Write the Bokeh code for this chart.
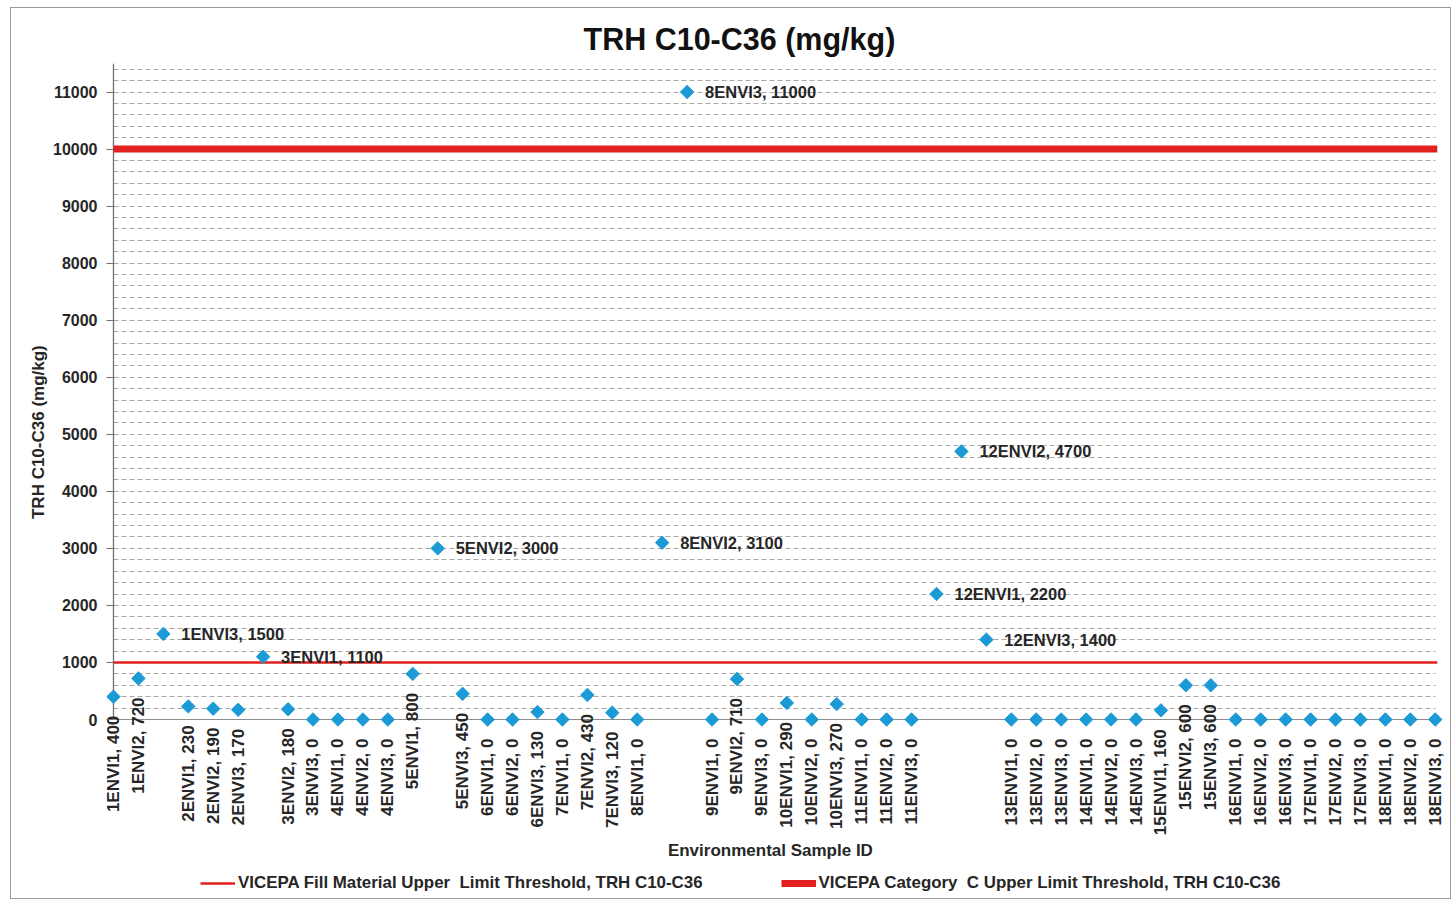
import math
from bokeh.plotting import figure
from bokeh.models import Range1d, FixedTicker, Legend, LegendItem, ColumnDataSource, Label, Title
from bokeh.core.properties import value
from bokeh.embed import file_html
from bokeh.resources import INLINE

# ---------------- data ----------------
samples = [
    "1ENVI1", "1ENVI2", "1ENVI3", "2ENVI1", "2ENVI2", "2ENVI3",
    "3ENVI1", "3ENVI2", "3ENVI3", "4ENVI1", "4ENVI2", "4ENVI3",
    "5ENVI1", "5ENVI2", "5ENVI3", "6ENVI1", "6ENVI2", "6ENVI3",
    "7ENVI1", "7ENVI2", "7ENVI3", "8ENVI1", "8ENVI2", "8ENVI3",
    "9ENVI1", "9ENVI2", "9ENVI3", "10ENVI1", "10ENVI2", "10ENVI3",
    "11ENVI1", "11ENVI2", "11ENVI3", "12ENVI1", "12ENVI2", "12ENVI3",
    "13ENVI1", "13ENVI2", "13ENVI3", "14ENVI1", "14ENVI2", "14ENVI3",
    "15ENVI1", "15ENVI2", "15ENVI3", "16ENVI1", "16ENVI2", "16ENVI3",
    "17ENVI1", "17ENVI2", "17ENVI3", "18ENVI1", "18ENVI2", "18ENVI3",
]
trh = [
    400, 720, 1500, 230, 190, 170,
    1100, 180, 0, 0, 0, 0,
    800, 3000, 450, 0, 0, 130,
    0, 430, 120, 0, 3100, 11000,
    0, 710, 0, 290, 0, 270,
    0, 0, 0, 2200, 4700, 1400,
    0, 0, 0, 0, 0, 0,
    160, 600, 600, 0, 0, 0,
    0, 0, 0, 0, 0, 0,
]
fill_limit = 1000
cat_c_limit = 10000
y_ticks = [0, 1000, 2000, 3000, 4000, 5000, 6000, 7000, 8000, 9000, 10000, 11000]
y_max = 11500

title_text = "TRH C10-C36 (mg/kg)"
y_title = "TRH C10-C36  (mg/kg)"
x_title = "Environmental Sample ID"
fill_label = "VICEPA Fill Material Upper  Limit Threshold, TRH C10-C36"
cat_label = "VICEPA Category  C Upper Limit Threshold, TRH C10-C36"

# ---------------- styling ----------------
FONT = "Liberation Sans"
TXT = "#262626"
BLUE = "#1b9ad6"
RED = "#e3201e"
AXIS = "#707070"

n = len(samples)
xs = list(range(n))
lab = [f"{s}, {v}" for s, v in zip(samples, trh)]
hi = [v >= fill_limit for v in trh]

src_hi = ColumnDataSource(dict(
    x=[x for x, h in zip(xs, hi) if h],
    y=[v for v, h in zip(trh, hi) if h],
    t=[l for l, h in zip(lab, hi) if h]))
src_lo = ColumnDataSource(dict(
    x=[x for x, h in zip(xs, hi) if not h],
    y=[v for v, h in zip(trh, hi) if not h],
    t=[l for l, h in zip(lab, hi) if not h]))

# the plotting frame runs down to the bottom so that the rotated labels,
# the x title and the legend all lie inside it
y_bottom = -3173
p = figure(width=1441, height=892,
           x_range=Range1d(-0.28, n - 1 + 0.45),
           y_range=Range1d(y_bottom, y_max),
           output_backend="svg", toolbar_location=None,
           min_border_left=95, min_border_right=6,
           min_border_top=55, min_border_bottom=0)
p.styles = {"border": "1px solid #9a9a9a", "margin-left": "10px", "margin-top": "7px"}
p.outline_line_color = None
p.background_fill_color = "white"
p.border_fill_color = "white"

# title
p.title.text = title_text
p.title.text_font = FONT
p.title.text_font_size = "30.5px"
p.title.text_font_style = "bold"
p.title.text_color = "#111111"
p.title.align = "left"
p.title.offset = 477
p.title.standoff = 16

# grid
p.xgrid.visible = False
p.ygrid.ticker = FixedTicker(ticks=list(range(200, y_max, 200)))
p.ygrid.grid_line_color = "#a8a8a8"
p.ygrid.grid_line_dash = "5 3"
p.ygrid.grid_line_width = 1
p.ygrid.cross_bounds = (0, n - 1)

# y axis (line drawn at x = 0 below; ticks point in from the frame edge)
ya = p.yaxis[0]
ya.ticker = FixedTicker(ticks=y_ticks)
ya.bounds = (0, y_max)
ya.axis_line_color = None
ya.major_tick_out = 0
ya.major_tick_in = 7
ya.minor_tick_out = 0
ya.minor_tick_in = 0
ya.major_tick_line_color = AXIS
ya.major_label_text_font = FONT
ya.major_label_text_font_size = "16px"
ya.major_label_text_font_style = "bold"
ya.major_label_text_color = TXT
ya.major_label_standoff = 9

# y axis title as a side title so that it can sit beside the value scale
p.add_layout(Title(text=y_title, align="right", offset=277, standoff=5,
                   text_font=FONT, text_font_size="17px", text_font_style="bold",
                   text_color=TXT), "left")

p.xaxis.visible = False

# axis lines
p.line(x=[0, 0], y=[0, y_max], line_color=AXIS, line_width=1.3)
p.line(x=[0, n - 1], y=[0, 0], line_color="#8c8c8c", line_width=1.2)

# threshold lines
r_fill = p.line(x=[0, n - 1 + 0.08], y=[fill_limit, fill_limit], line_color=RED, line_width=2.6)
r_cat = p.line(x=[0, n - 1 + 0.08], y=[cat_c_limit, cat_c_limit], line_color=RED, line_width=7)

# points
p.scatter(x=xs, y=trh, marker="square", angle=math.pi / 4, size=9.5,
          fill_color=BLUE, line_color=BLUE)

# data labels
p.text(x="x", y="y", text="t", source=src_hi, x_offset=18,
       text_align="left", text_baseline="middle",
       text_font=value(FONT), text_font_size=value("16.5px"),
       text_font_style="bold", text_color=TXT)
p.text(x="x", y="y", text="t", source=src_lo, y_offset=19, angle=math.pi / 2,
       text_align="right", text_baseline="middle",
       text_font=value(FONT), text_font_size=value("17px"),
       text_font_style="bold", text_color=TXT)

# x axis title
p.add_layout(Label(x=(n - 1) / 2 - 0.16, y=-2296, text=x_title, text_align="center",
                   text_baseline="middle", text_font=FONT, text_font_size="17px",
                   text_font_style="bold", text_color=TXT))

# legend
legend = Legend(items=[LegendItem(label=fill_label, renderers=[r_fill]),
                       LegendItem(label=cat_label, renderers=[r_cat])],
                orientation="horizontal", location=(94, 7),
                glyph_width=35, glyph_height=18, label_standoff=3, spacing=78,
                padding=0, margin=0, border_line_color=None,
                background_fill_alpha=0,
                label_text_font=FONT, label_text_font_size="16.9px",
                label_text_font_style="bold",
                label_text_color=TXT, label_height=18)
p.add_layout(legend)

open("out.html", "w").write(file_html(p, INLINE))
